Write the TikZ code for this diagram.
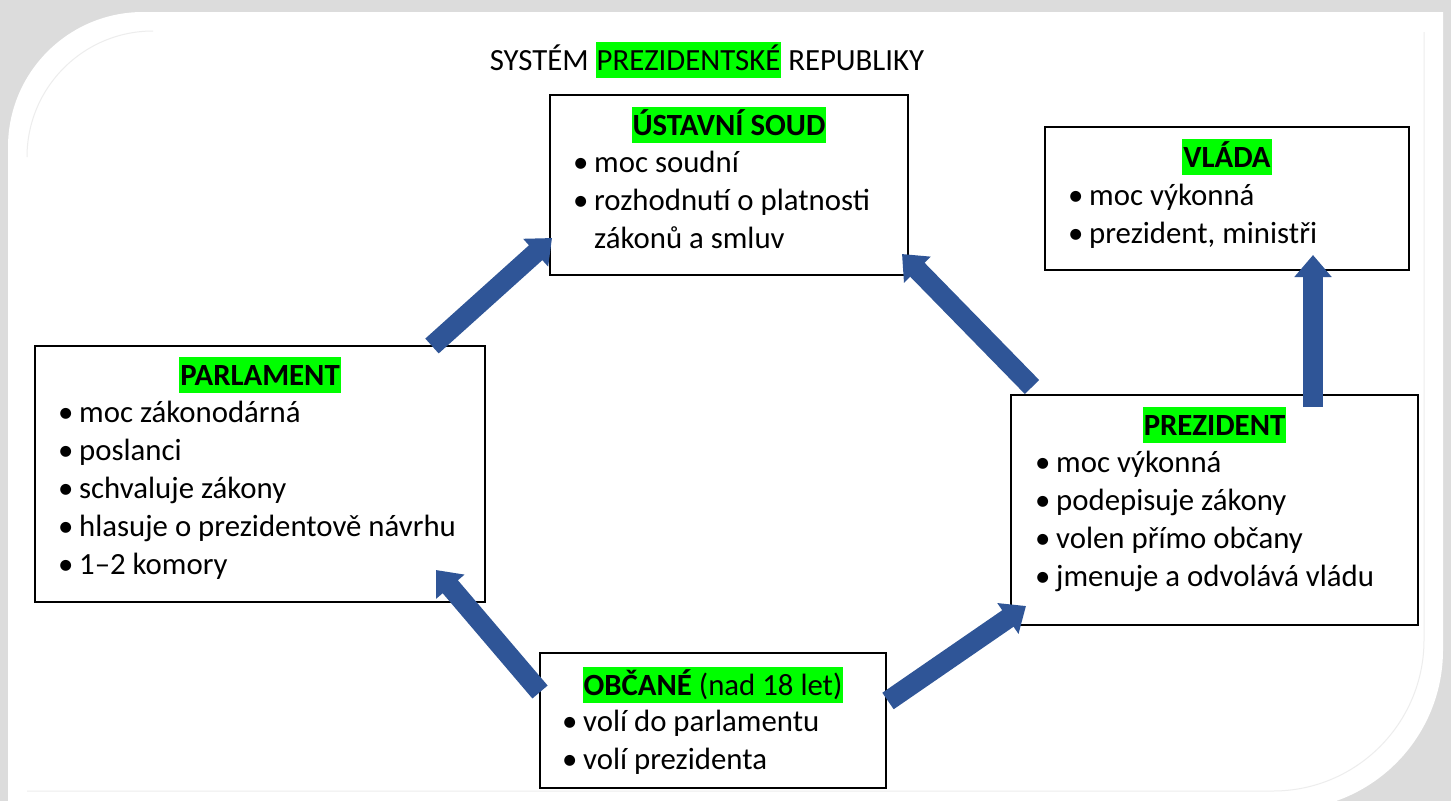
\documentclass[tikz,border=0pt]{standalone}
\usepackage{fontspec}
\setmainfont{Carlito}
\usepackage{xcolor}
\definecolor{govGreen}{HTML}{00FF00}
\definecolor{govArrow}{HTML}{2F5597}
\definecolor{govShadow}{HTML}{DCDCDC}
\definecolor{govLine}{HTML}{EDEDED}
\usetikzlibrary{arrows.meta}
\newcommand{\greenmark}[1]{{\setlength{\fboxsep}{1pt}\colorbox{govGreen}{\rule[-7pt]{0pt}{34pt}#1}}}
\newcommand{\bul}{\makebox[21pt][l]{\textbullet}}

\begin{document}
\begin{tikzpicture}[x=1pt, y=-1pt,
  every node/.style={font=\fontsize{30.8}{38}\selectfont, inner sep=0pt},
  box/.style={draw=black, line width=2pt, fill=white, outer sep=0pt, anchor=north west},
  head/.style={font=\fontsize{30.8}{38}\selectfont\bfseries, anchor=base},
  list/.style={align=left, anchor=base west},
  blockarrow/.style={draw=govArrow, line width=20pt, -{Triangle[width=36pt,length=22pt]}}]
  \useasboundingbox (0,0) rectangle (1451,801);
  \clip (0,0) rectangle (1451,801);
  % panel
  \fill[govShadow] (0,0) rectangle (1451,801);
  \fill[white] (8,810) -- (8,147) arc[start angle=180, end angle=270, radius=135] -- (1443,12) -- (1443,650) arc[start angle=0, end angle=90, radius=160] -- cycle;
  \draw[govLine, line width=1pt] (27,157) arc[start angle=180, end angle=270, radius=126];
  \draw[govLine, line width=1pt] (1424,32) -- (1424,640) arc[start angle=0, end angle=90, radius=151] -- (27,791);

  \node[anchor=base] (TITLE) at (707,70) {SYSTÉM \greenmark{PREZIDENTSKÉ} REPUBLIKY};

  % boxes
  \node[box, minimum width=358pt, minimum height=180pt] (SOUD) at (550,95) {};
  \node[box, minimum width=364pt, minimum height=143pt] (VLADA) at (1045,127) {};
  \node[box, minimum width=450pt, minimum height=256pt] (PARL) at (35,346) {};
  \node[box, minimum width=407pt, minimum height=230pt] (PREZ) at (1011,395) {};
  \node[box, minimum width=346pt, minimum height=135pt] (OBC) at (540,653) {};

  % texts (a list node sits on the baseline of its last line)
  \node[head] (SOUDh) at ([yshift=-40pt]SOUD.north) {\greenmark{ÚSTAVNÍ SOUD}};
  \node[list] (SOUDl) at ([xshift=23pt,yshift=-153pt]SOUD.north west) {\bul moc soudní\\ \bul rozhodnutí o platnosti\\ \hspace*{21pt}zákonů a smluv};

  \node[head] (VLADAh) at ([yshift=-40pt]VLADA.north) {\greenmark{VLÁDA}};
  \node[list] (VLADAl) at ([xshift=23pt,yshift=-116pt]VLADA.north west) {\bul moc výkonná\\ \bul prezident, ministři};

  \node[head] (PARLh) at ([yshift=-39pt]PARL.north) {\greenmark{PARLAMENT}};
  \node[list] (PARLl) at ([xshift=23pt,yshift=-228pt]PARL.north west) {\bul moc zákonodárná\\ \bul poslanci\\ \bul schvaluje zákony\\ \bul hlasuje o prezidentově návrhu\\ \bul 1–2 komory};

  \node[head] (PREZh) at ([yshift=-40pt]PREZ.north) {\greenmark{PREZIDENT}};
  \node[list] (PREZl) at ([xshift=24pt,yshift=-191pt]PREZ.north west) {\bul moc výkonná\\ \bul podepisuje zákony\\ \bul volen přímo občany\\ \bul jmenuje a odvolává vládu};

  \node[head] (OBCh) at ([yshift=-42pt]OBC.north) {\greenmark{OBČANÉ \mdseries(nad 18 let)}};
  \node[list] (OBCl) at ([xshift=22pt,yshift=-116pt]OBC.north west) {\bul volí do parlamentu\\ \bul volí prezidenta};

  % arrows
  \draw[blockarrow] ([xshift=-53pt]PARL.north east) -- ([xshift=2pt,yshift=37pt]SOUD.south west);
  \draw[blockarrow] ([xshift=21pt,yshift=8pt]PREZ.north west) -- ([xshift=-6pt,yshift=21pt]SOUD.south east);
  \draw[blockarrow] ([xshift=-105pt,yshift=-12pt]PREZ.north east) -- ([xshift=-96pt,yshift=15pt]VLADA.south east);
  \draw[blockarrow] ([yshift=-39pt]OBC.north west) -- ([xshift=-49pt,yshift=32pt]PARL.south east);
  \draw[blockarrow] ([xshift=2pt,yshift=-48pt]OBC.north east) -- ([xshift=15pt,yshift=19pt]PREZ.south west);
\end{tikzpicture}
\end{document}
